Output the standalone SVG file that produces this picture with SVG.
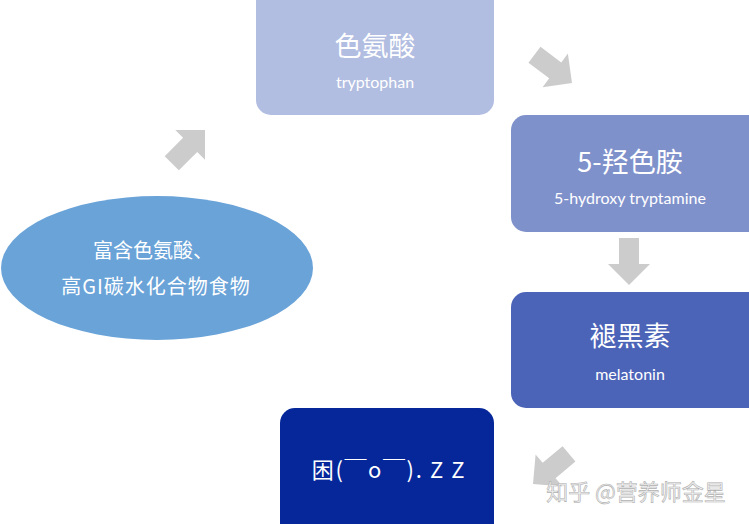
<svg xmlns="http://www.w3.org/2000/svg" width="749" height="524" viewBox="0 0 749 524">
<defs>
<style>
.t{font-family:"Noto Sans CJK SC","Noto Sans",sans-serif;fill:#ffffff;text-anchor:middle}
.big{font-size:27px}
.sm{font-family:"Lato","Noto Sans",sans-serif;font-size:16px;fill:#ffffff;text-anchor:middle}
.mid{font-size:20px}
.arr{fill:#cccccc}
</style>
<path id="blk" d="M-47,-10 L-21,-10 L-21,-21 L0,0 L-21,21 L-21,10 L-47,10 Z"/>
</defs>
<rect width="749" height="524" fill="#ffffff"/>
<g id="connectors" class="arr">
<use href="#blk" transform="translate(205,130) rotate(-45)"/>
<use href="#blk" transform="translate(572,83) rotate(37)"/>
<use href="#blk" transform="translate(629,285) rotate(90)"/>
<use href="#blk" transform="translate(533,484) rotate(140)"/>
</g>
<g id="food">
<ellipse cx="157" cy="268" rx="156" ry="72" fill="#6aa3d8"/>
<text class="t mid" x="153" y="258">富含色氨酸、</text>
<text class="t mid" x="156" y="294" style="letter-spacing:1px">高GI碳水化合物食物</text>
</g>
<g id="tryptophan">
<rect x="256" y="-15" width="238" height="130" rx="15" fill="#b1bde1"/>
<text class="t big" x="375" y="56">色氨酸</text>
<text class="sm" x="375" y="88">tryptophan</text>
</g>
<g id="serotonin">
<rect x="511" y="115" width="253" height="117" rx="15" fill="#7f91cb"/>
<text class="t big" x="630" y="172">5-羟色胺</text>
<text class="sm" x="630" y="204">5-hydroxy tryptamine</text>
</g>
<g id="melatonin">
<rect x="511" y="292" width="253" height="116" rx="15" fill="#4c64b8"/>
<text class="t big" x="630" y="346">褪黑素</text>
<text class="sm" x="630" y="380">melatonin</text>
</g>
<g id="sleepy">
<rect x="280" y="408" width="214" height="130" rx="15" fill="#06279a"/>
<text class="t" x="389" y="478" style="font-size:22px;letter-spacing:1.6px">困(￣o￣). Z Z</text>
</g>
<text x="636" y="500" style="font-family:'Noto Sans CJK SC',sans-serif;font-size:22px;fill:#f2f2f2;stroke:#b0b0b0;stroke-width:0.6;text-anchor:middle">知乎 @营养师金星</text>
</svg>
